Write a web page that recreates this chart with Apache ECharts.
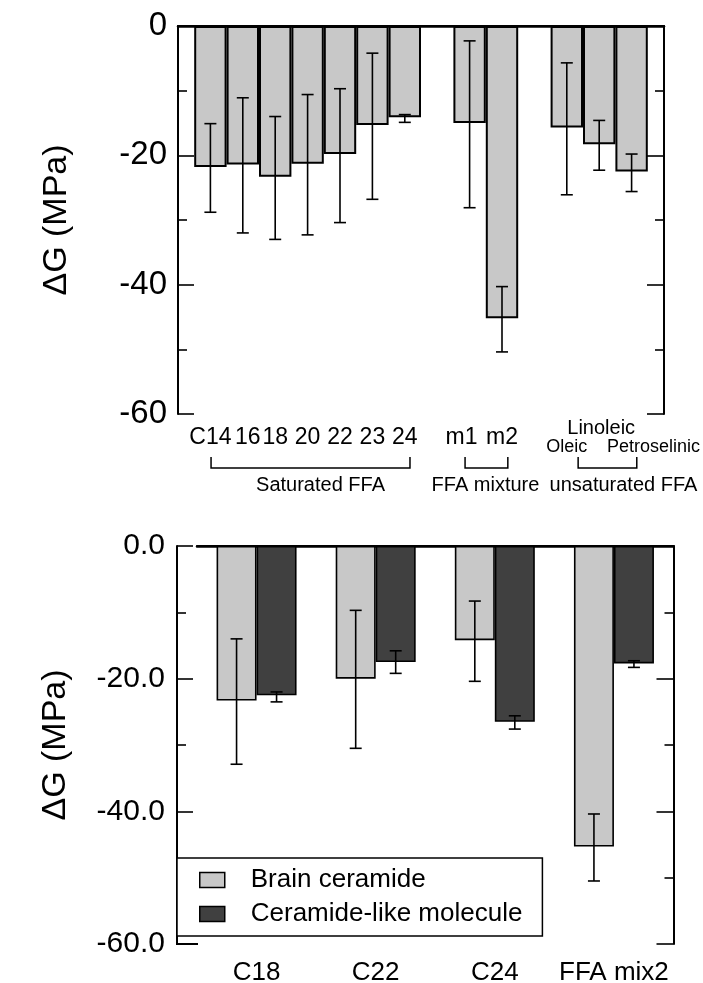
<!DOCTYPE html>
<html>
<head>
<meta charset="utf-8">
<script src="https://cdn.jsdelivr.net/npm/echarts@6/dist/echarts.min.js"></script>
<style>
html, body { margin: 0; padding: 0; background: #fff; }
#chart { width: 703px; height: 983px; }
</style>
</head>
<body>
<div id="chart"></div>
<script>
// top panel: one bar per fatty acid, empty slots split the groups
const topCats = ['', 'C14', '16', '18', '20', '22', '23', '24', '', 'm1', 'm2', '', 'Oleic', 'Linoleic', 'Petroselinic', '']
const topValues = [null, -21.8, -21.4, -23.3, -21.3, -19.8, -15.3, -14.1, null, -15.0, -45.2, null, -15.7, -18.3, -22.5, null]
const topErrLow = [null, -28.8, -32.0, -33.0, -32.3, -30.4, -26.8, -14.9, null, -28.1, -50.4, null, -26.1, -22.3, -25.6, null]
const topErrHigh = [null, -15.1, -11.1, -14.0, -10.6, -9.7, -4.2, -13.7, null, -2.3, -40.3, null, -5.7, -14.6, -19.8, null]
const groupNames = ['Saturated FFA', 'FFA mixture', 'unsaturated FFA']

// bottom panel
const botCats = ['C18', 'C22', 'C24', 'FFA mix2']
const brainValues = [-23.3, -20.0, -14.2, -45.3]
const brainLow = [-32.9, -30.5, -20.4, -50.5]
const brainHigh = [-14.0, -9.7, -8.3, -40.4]
const likeValues = [-22.5, -17.5, -26.5, -17.7]
const likeLow = [-23.5, -19.2, -27.6, -18.3]
const likeHigh = [-22.0, -15.8, -25.6, -17.3]

// layout bits (category units for the brackets, pixels for label shifts)
const bracketFrom = [1.02, 8.86, 12.35]
const bracketTo = [7.16, 10.18, 14.16]
const bracketTextShift = [10, -1, 16]

const FONT = "'Liberation Sans', Arial, sans-serif"
const LIGHT = '#c8c8c8'
const DARK = '#404040'

const chart = echarts.init(document.getElementById('chart'))

function errorBar(offset) {
  return function (params, api) {
    const x = api.value(0)
    const lo = api.coord([x, api.value(1)])
    const hi = api.coord([x, api.value(2)])
    const cx = lo[0] + offset
    const st = { stroke: '#000', lineWidth: 1.6 }
    return {
      type: 'group',
      children: [
        { type: 'line', shape: { x1: cx, y1: hi[1], x2: cx, y2: lo[1] }, style: st },
        { type: 'line', shape: { x1: cx - 6, y1: hi[1], x2: cx + 6, y2: hi[1] }, style: st },
        { type: 'line', shape: { x1: cx - 6, y1: lo[1], x2: cx + 6, y2: lo[1] }, style: st }
      ]
    }
  }
}

function bracket(params, api) {
  const i = params.dataIndex
  const p0 = api.coord([0, -60])
  const p1 = api.coord([1, -60])
  const band = p1[0] - p0[0]
  const xa = p0[0] + bracketFrom[i] * band
  const xb = p0[0] + bracketTo[i] * band
  const y = p0[1] + 54
  return {
    type: 'group',
    children: [
      { type: 'polyline', shape: { points: [[xa, y - 11], [xa, y], [xb, y], [xb, y - 11]] },
        style: { stroke: '#000', lineWidth: 1.5, fill: null } },
      { type: 'text', x: (xa + xb) / 2 + bracketTextShift[i], y: y + 17,
        style: { text: groupNames[i], font: '20px ' + FONT, fill: '#000', align: 'center', verticalAlign: 'middle' } }
    ]
  }
}

const topErrData = []
topValues.forEach((v, i) => { if (v !== null) topErrData.push([i, topErrLow[i], topErrHigh[i]]) })

function yAxisBase(grid, pos) {
  return {
    gridIndex: grid, type: 'value', position: pos, min: -60, max: 0, interval: 20,
    axisLine: { show: true, lineStyle: { color: '#000', width: 2 } },
    axisTick: { show: true, inside: true, length: pos === 'left' ? 16 : 17, lineStyle: { color: '#000', width: 1.6 } },
    minorTick: { show: true, splitNumber: 2, length: 9, lineStyle: { color: '#000', width: 1.6 } },
    splitLine: { show: false },
    axisLabel: { show: false }
  }
}

// a few of the top labels sit off their bar centre in the original
const topLabelStyle = { '16': 'a', 'm1': 'b', 'Linoleic': 'l', 'Oleic': 's', 'Petroselinic': 'p' }

const option = {
  animation: false,
  textStyle: { fontFamily: FONT, color: '#000' },
  grid: [
    { left: 178, top: 26, width: 486, height: 388, outerBoundsMode: 'none' },
    { left: 197, top: 546, width: 476.5, height: 398, outerBoundsMode: 'none' }
  ],
  xAxis: [
    {
      gridIndex: 0, type: 'category', data: topCats, boundaryGap: false, position: 'bottom',
      axisLine: { lineStyle: { color: '#000', width: 2 } },
      axisTick: { show: false },
      axisLabel: {
        interval: 0, margin: 4, color: '#000',
        formatter: function (v) {
          if (!v) return ''
          return '{' + (topLabelStyle[v] || 'n') + '|' + v + '}'
        },
        rich: {
          n: { fontSize: 23, fontFamily: FONT, color: '#000', padding: [8, 0, 0, 0] },
          a: { fontSize: 23, fontFamily: FONT, color: '#000', padding: [8, 0, 0, 10] },
          b: { fontSize: 23, fontFamily: FONT, color: '#000', padding: [8, 16, 0, 0] },
          l: { fontSize: 20, fontFamily: FONT, color: '#000', padding: [0, 0, 0, 4] },
          s: { fontSize: 18, fontFamily: FONT, color: '#000', padding: [20, 0, 0, 0] },
          p: { fontSize: 18, fontFamily: FONT, color: '#000', padding: [20, 0, 0, 44] }
        }
      }
    },
    {
      gridIndex: 0, type: 'category', data: topCats, boundaryGap: false, position: 'top',
      axisLine: { lineStyle: { color: '#000', width: 2.5 } },
      axisTick: { show: false }, axisLabel: { show: false }
    },
    {
      gridIndex: 1, type: 'category', data: botCats, position: 'bottom',
      axisLine: { lineStyle: { color: '#000', width: 2 } },
      axisTick: { show: false },
      axisLabel: { interval: 0, fontSize: 26, margin: 16, color: '#000' }
    },
    {
      gridIndex: 1, type: 'category', data: botCats, position: 'top',
      axisLine: { lineStyle: { color: '#000', width: 2.5 } },
      axisTick: { show: false }, axisLabel: { show: false }
    }
  ],
  yAxis: [
    Object.assign(yAxisBase(0, 'left'), {
      axisLabel: { show: true, fontSize: 33, margin: 11, color: '#000' },
      name: 'ΔG (MPa)', nameLocation: 'middle', nameGap: 104,
      nameTextStyle: { fontSize: 34, color: '#000' }
    }),
    yAxisBase(0, 'right'),
    Object.assign(yAxisBase(1, 'left'), {
      offset: 20,
      axisLabel: { show: true, fontSize: 30, margin: 12, color: '#000', formatter: v => v.toFixed(1) },
      name: 'ΔG (MPa)', nameLocation: 'middle', nameGap: 104,
      nameTextStyle: { fontSize: 34, color: '#000' }
    }),
    yAxisBase(1, 'right')
  ],
  legend: {
    data: ['Brain ceramide', 'Ceramide-like molecule'],
    orient: 'vertical', left: 177, top: 858,
    padding: [9, 20, 9, 22],
    itemWidth: 25, itemHeight: 15, itemGap: 8,
    backgroundColor: '#fff', borderColor: '#000', borderWidth: 1.5, borderRadius: 0,
    icon: 'rect',
    itemStyle: { borderColor: '#000', borderWidth: 1.5 },
    textStyle: { fontSize: 26, color: '#000', padding: [0, 0, 0, 21], lineHeight: 26 }
  },
  graphic: [
    // the frame's bottom edge runs under the offset y axis as well
    { type: 'line', shape: { x1: 176, y1: 944, x2: 198, y2: 944 }, style: { stroke: '#000', lineWidth: 2 } }
  ],
  series: [
    {
      type: 'bar', xAxisIndex: 0, yAxisIndex: 0, data: topValues, barCategoryGap: 0,
      itemStyle: { color: LIGHT, borderColor: '#000', borderWidth: 2 }
    },
    { type: 'custom', xAxisIndex: 0, yAxisIndex: 0, data: topErrData, renderItem: errorBar(0), z: 5 },
    { type: 'custom', xAxisIndex: 0, yAxisIndex: 0, data: groupNames.map((n, i) => [i, -60]), renderItem: bracket, clip: false },
    {
      name: 'Brain ceramide', type: 'bar', xAxisIndex: 2, yAxisIndex: 2, data: brainValues,
      barWidth: 40, barGap: '0%',
      itemStyle: { color: LIGHT, borderColor: '#000', borderWidth: 1.6 }
    },
    {
      name: 'Ceramide-like molecule', type: 'bar', xAxisIndex: 2, yAxisIndex: 2, data: likeValues,
      barWidth: 40, barGap: '0%',
      itemStyle: { color: DARK, borderColor: '#000', borderWidth: 1.6 }
    },
    { type: 'custom', xAxisIndex: 2, yAxisIndex: 2, z: 5, renderItem: errorBar(-20),
      data: botCats.map((c, i) => [i, brainLow[i], brainHigh[i]]) },
    { type: 'custom', xAxisIndex: 2, yAxisIndex: 2, z: 5, renderItem: errorBar(20),
      data: botCats.map((c, i) => [i, likeLow[i], likeHigh[i]]) }
  ]
}

chart.setOption(option)
</script>
</body>
</html>
